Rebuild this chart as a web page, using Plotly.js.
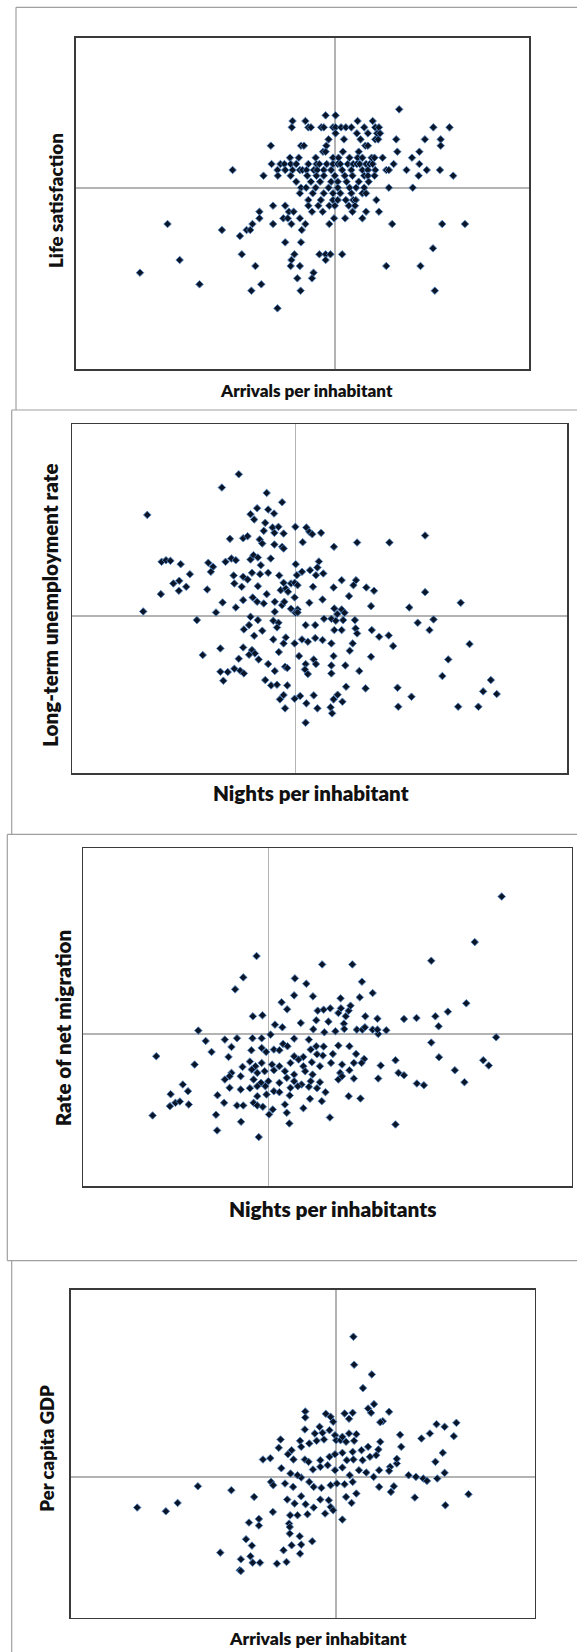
<!DOCTYPE html>
<html>
<head>
<meta charset="utf-8">
<script src="https://cdn.plot.ly/plotly-3.0.1.min.js"></script>
<style>
html,body{margin:0;padding:0;background:#ffffff;}
#chart{width:577px;height:1652px;}
</style>
</head>
<body>
<div id="chart"></div>
<script>
// ---------------- DATA (standardised values; 0 = mean, crossing lines) ----------------
// Panel 1: Arrivals per inhabitant vs Life satisfaction
const p1Arrivals = [
 1.75, -0.25, 0.02, -1.15, -0.80, 0.62, 1.03,
 -1.17, -0.72, -0.65, -0.37, -0.30, -0.05, 0.02, 0.17, 0.30, 0.45, 0.80, 1.10, 1.20, 2.68, 3.12,
 0.02, 0.60, 0.90, 1.15, 1.23,
 -0.17, 0.25, 0.70, 1.10, 1.18, 1.67, 2.45, 2.88,
 -1.74, -0.92, -0.84, -0.23, 0.83, 0.90, 2.88,
 -0.32, -0.25, 0.22, 0.65, 1.70, 2.30,
 -1.22, -0.98, -0.52, -0.05, 0.10, 0.40, 0.62, 0.75, 1.00, 1.08, 1.30, 2.10,
 -1.72, -1.48, -1.37, -1.20, -1.05, -0.72, -0.50, -0.42, -0.22, -0.05, 0.08, 0.15, 0.35, 0.50, 0.60, 0.68, 0.85, 0.95, 1.03, 1.60, 2.30,
 -2.78, -1.56, -1.35, -1.15, -0.95, -0.88, -0.77, -0.57, -0.48, -0.30, -0.10, 0.20, 0.45, 0.75, 0.90, 1.10, 1.40, 1.47, 1.95, 2.50, 2.86,
 -1.94, -1.55, -1.20, -0.75, -0.50, -0.30, 0.00, 0.27, 0.48, 0.80, 0.90, 1.08, 2.28, 3.22,
 -1.05, -0.65, -0.40, -0.10, 0.08, 0.32, 0.65, 0.92,
 -0.92, -0.78, -0.52, -0.17, 0.08, 0.40, 0.58, 0.80, 1.47, 2.12,
 -0.95, -0.60, -0.30, -0.05, 0.15, 0.45, 0.75, 0.85,
 -0.72, -0.38, -0.05, 0.08, 0.30, 0.50, 0.57, 1.13,
 -1.68, -1.35, -0.72, -0.45, -0.15, 0.00, 0.38, 0.55,
 -2.05, -1.25, -1.12, -0.62, -0.33, 0.48, 0.85, 1.20,
 -2.05, -1.40, -1.28, -0.95, -0.02, 0.28, 0.75,
 -4.55, -2.24, -1.68, -1.18, -0.80, -0.15, 1.56, 2.92, 3.54,
 -3.07, -2.40, -2.30, -0.90,
 -2.58,
 -1.35, -0.92,
 2.67,
 -2.53, -1.10, -0.42, -0.25, -0.12, 0.20,
 -4.22, -1.18, -0.25,
 -2.16, -1.20, -0.95, 1.40, 2.33,
 -5.30, -0.58,
 -1.02, -0.62,
 -3.68, -2.00,
 -2.27, -0.93, 2.72,
 -1.56
];
const p1LifeSatisfaction = [
 2.36, 2.18, 2.18, 2.01, 2.01, 2.01, 2.01,
 1.82, 1.82, 1.82, 1.82, 1.82, 1.82, 1.82, 1.82, 1.82, 1.82, 1.82, 1.82, 1.82, 1.82, 1.82,
 1.64, 1.64, 1.64, 1.64, 1.64,
 1.46, 1.46, 1.46, 1.46, 1.46, 1.46, 1.46, 1.46,
 1.27, 1.27, 1.27, 1.27, 1.27, 1.27, 1.27,
 1.09, 1.09, 1.09, 1.09, 1.09, 1.09,
 0.91, 0.91, 0.91, 0.91, 0.91, 0.91, 0.91, 0.91, 0.91, 0.91, 0.91, 0.91,
 0.72, 0.72, 0.72, 0.72, 0.72, 0.72, 0.72, 0.72, 0.72, 0.72, 0.72, 0.72, 0.72, 0.72, 0.72, 0.72, 0.72, 0.72, 0.72, 0.72, 0.72,
 0.54, 0.54, 0.54, 0.54, 0.54, 0.54, 0.54, 0.54, 0.54, 0.54, 0.54, 0.54, 0.54, 0.54, 0.54, 0.54, 0.54, 0.54, 0.54, 0.54, 0.54,
 0.37, 0.37, 0.37, 0.37, 0.37, 0.37, 0.37, 0.37, 0.37, 0.37, 0.37, 0.37, 0.37, 0.37,
 0.19, 0.19, 0.19, 0.19, 0.19, 0.19, 0.19, 0.19,
 0.01, 0.01, 0.01, 0.01, 0.01, 0.01, 0.01, 0.01, 0.01, 0.01,
 -0.16, -0.16, -0.16, -0.16, -0.16, -0.16, -0.16, -0.16,
 -0.36, -0.36, -0.36, -0.36, -0.36, -0.36, -0.36, -0.36,
 -0.53, -0.53, -0.53, -0.53, -0.53, -0.53, -0.53, -0.53,
 -0.71, -0.71, -0.71, -0.71, -0.71, -0.71, -0.71, -0.71,
 -0.91, -0.91, -0.91, -0.91, -0.91, -0.91, -0.91,
 -1.08, -1.08, -1.08, -1.08, -1.08, -1.08, -1.08, -1.08, -1.08,
 -1.26, -1.26, -1.26, -1.26,
 -1.44,
 -1.63, -1.63,
 -1.81,
 -1.99, -1.99, -1.99, -1.99, -1.99, -1.99,
 -2.16, -2.16, -2.16,
 -2.34, -2.34, -2.34, -2.34, -2.34,
 -2.54, -2.54,
 -2.71, -2.71,
 -2.89, -2.89,
 -3.08, -3.08, -3.08,
 -3.61
];

// Panel 2: Nights per inhabitant vs Long-term unemployment rate
const p2Nights = [
 -1.54, -2.00, -0.78, -0.36, -4.03, -1.04, -0.74, -0.58, -1.22, -1.12,
 -0.82, -0.62, -0.46, -0.86, -0.57, -0.32, 0.00, 0.30, 0.38, 0.46,
 0.70, -1.78, -1.42, -1.30, -0.97, -0.90, -0.57, -0.36, -0.32, 0.20,
 1.05, 1.68, 2.56, 3.53, -3.64, -3.52, -3.40, -3.12, -2.37, -2.24,
 -2.30, -1.90, -1.74, -1.62, -1.22, -1.14, -1.02, -0.67, -0.94, 0.01,
 0.64, 0.60, -2.87, -3.32, -3.16, -2.97, -3.17, -3.66, -2.40, -1.98,
 -2.16, -1.68, -1.66, -1.42, -1.30, -1.18, -0.96, -0.74, -0.44, -0.32,
 -0.12, 0.04, 0.18, 0.40, 0.56, 0.76, -1.46, -1.02, -0.78, -0.40,
 -0.26, -0.20, -0.02, 0.06, 0.48, 1.04, 1.26, 1.58, 1.65, 1.93,
 2.14, 1.46, -1.62, -1.42, -1.16, -1.04, -0.86, -0.56, -0.36, -0.02,
 -0.30, 0.06, -0.12, 0.00, 0.38, 0.74, 1.06, 1.26, 1.14, 1.34,
 2.06, 3.10, 3.53, 4.50, -4.14, -2.68, -1.22, -1.02, -0.56, -0.60,
 -0.46, 0.06, 0.78, 0.98, 1.10, 1.30, 1.62, 3.76, 3.33, -1.40,
 -1.26, -0.90, -0.50, 0.28, 0.54, 1.06, 1.26, 1.64, 1.68, 2.08,
 2.28, 2.54, 3.65, -1.12, -0.60, -0.26, 0.18, 0.34, 0.54, 0.74,
 0.98, 1.56, 2.66, 4.74, -2.04, -1.42, -1.18, -1.10, -1.26, -0.45,
 -0.32, -0.02, 0.10, 0.50, 1.04, 1.48, 2.06, 4.16, -2.52, -1.54,
 -1.00, -0.74, -0.28, 0.28, 0.26, 0.56, 0.98, 1.36, 1.74, 4.00,
 -2.04, -1.96, -1.84, -1.66, -1.50, -1.40, -0.56, -0.22, 0.34, 0.98,
 -0.82, -0.66, -0.50, -0.22, 1.38, 1.91, 2.78, 3.16, 5.32, 5.11,
 5.48, -0.42, -0.32, -0.02, 0.13, 0.30, 0.50, 1.04, 1.28, 1.15,
 2.80, 4.43, 4.98, -0.28, 0.60, 0.96, 1.00, 0.28
];
const p2LongTermUnemployment = [
 4.26, 3.86, 3.70, 3.42, 3.04, 3.24, 3.20, 3.08, 3.06, 2.90,
 2.80, 2.66, 2.68, 2.56, 2.50, 2.48, 2.68, 2.66, 2.53, 2.46,
 2.50, 2.32, 2.34, 2.40, 2.30, 2.18, 2.15, 2.08, 2.03, 2.22,
 2.08, 2.21, 2.21, 2.42, 1.63, 1.68, 1.66, 1.56, 1.60, 1.48,
 1.33, 1.63, 1.73, 1.68, 1.70, 1.83, 1.76, 1.73, 1.53, 1.56,
 1.64, 1.46, 1.26, 0.98, 1.06, 0.88, 0.76, 0.66, 0.80, 0.41,
 0.11, 1.22, 0.98, 1.18, 1.10, 1.30, 1.26, 1.30, 1.22, 1.00,
 0.98, 1.23, 1.33, 1.38, 1.23, 1.28, 0.88, 0.90, 0.66, 0.78,
 0.83, 0.73, 1.00, 0.93, 0.88, 0.86, 1.08, 0.93, 1.08, 0.86,
 0.76, 0.60, 0.26, 0.48, 0.56, 0.43, 0.38, 0.43, 0.33, 0.56,
 0.43, 0.20, 0.22, 0.10, 0.40, 0.50, 0.23, 0.20, 0.06, 0.10,
 0.30, 0.26, 0.72, 0.40, 0.14, -0.12, -0.02, -0.12, 0.13, -0.14,
 -0.20, 0.11, -0.08, -0.08, -0.14, -0.12, -0.12, -0.10, -0.20, -0.40,
 -0.27, -0.44, -0.34, -0.27, -0.27, -0.42, -0.42, -0.37, -0.52, -0.42,
 -0.62, -0.58, -0.42, -0.59, -0.70, -0.64, -0.70, -0.77, -0.66, -0.72,
 -0.82, -0.82, -0.90, -0.84, -0.97, -0.94, -1.02, -1.12, -1.16, -1.08,
 -0.82, -0.82, -1.20, -1.30, -1.20, -1.04, -1.22, -1.30, -1.17, -1.28,
 -1.30, -1.44, -1.52, -1.44, -1.60, -1.44, -1.48, -1.48, -1.65, -1.80,
 -1.67, -1.94, -1.68, -1.58, -1.64, -1.72, -1.65, -1.56, -1.74, -1.72,
 -1.92, -2.08, -2.06, -2.08, -2.12, -2.17, -2.15, -2.42, -1.92, -2.26,
 -2.34, -2.50, -2.37, -2.48, -2.40, -2.62, -2.38, -2.50, -2.57, -2.36,
 -2.72, -2.72, -2.72, -2.77, -2.77, -2.74, -2.92, -3.20
];

// Panel 3: Nights per inhabitants vs Rate of net migration
const p3Nights = [
 6.33, 5.60, 4.42, -0.32, 1.46, 2.28, -0.68, -0.90, 0.72, 1.03, 2.54, 0.70, 1.21, 2.83, 1.96, 2.48, 0.36, 0.51, 5.37,
 1.34, 1.50, 1.68, 1.90, 2.18, 2.23, 1.97,
 4.87, -0.42, -0.16,
 1.30, 1.63, 2.10, 2.63, 2.96,
 3.68, 4.02, 4.53, 4.62,
 0.18, 0.38, 0.88, 1.22, 1.52, 1.82, 2.05, 2.06, 2.40, 2.55, 2.62, 2.83, 2.98, 3.20, 2.96,
 -1.90,
 0.06, -0.18, -0.43, -0.85, -1.18,
 -1.70, -1.00, -1.54,
 6.18, 4.42,
 0.40, 0.70, 0.52, 1.10, 1.30, 1.50, 1.90, 2.20, 2.38, 2.60, 1.75, 1.48,
 -0.46, -0.18, -0.06, 0.15, 0.30, 0.70, 0.95, 1.15, 1.32,
 -3.04, -1.08, 4.63, 3.45, 5.83, 5.98, -2.00,
 -0.70, -0.50, -0.35, -0.18, 0.10, 0.30, 0.60, 0.82, 0.95, 1.18, 1.40, 1.70, 2.00, 2.32, 2.53, 3.05,
 -0.45, -0.30, -0.10, 0.15, 0.45, 0.70, 1.00, 1.20, 1.95, 2.20,
 3.53, 3.68, 5.06,
 -1.00, -0.75, -1.18, -1.05,
 -0.40, -0.20, 0.00, 0.30, 0.50, 0.70, 0.90, 1.15, 1.40, 1.90, 2.00, 2.32, 2.98,
 4.03, 4.22, 5.32,
 -2.32, -2.18, -2.65, -1.05, -0.75, -0.50, -0.30, -0.08, 0.15, 0.30, 0.60, 0.80, 1.10, 1.32, 1.55,
 -1.38, -0.30, -0.05, 0.58, 1.13, 1.45, 2.18, 2.50,
 -2.67, -2.52, -2.40, -2.16, -1.20, -0.85, -0.68, -0.40, -0.30, -0.15, 0.45, 0.95,
 -3.14, -1.42, 0.02, 0.12, 0.50, 1.67,
 -0.74, 0.57, 3.45, -1.39, -0.26
];
const p3NetMigration = [
 4.13, 2.76, 2.20, 2.34, 2.09, 2.09, 1.70, 1.34, 1.67, 1.51, 1.57, 1.16, 1.13, 1.23, 1.07, 1.10, 0.95, 0.74, 0.92,
 0.70, 0.73, 0.77, 0.63, 0.70, 0.85, 0.77,
 0.67, 0.53, 0.56,
 0.41, 0.37, 0.53, 0.53, 0.46,
 0.45, 0.48, 0.53, 0.23,
 0.28, 0.20, 0.33, 0.14, 0.05, 0.08, 0.31, 0.15, 0.13, 0.13, 0.20, 0.13, 0.00, 0.11, 0.13,
 0.10,
 -0.02, -0.13, -0.13, -0.13, -0.17,
 -0.21, -0.39, -0.54,
 -0.10, -0.26,
 -0.30, -0.14, -0.37, -0.17, -0.37, -0.38, -0.35, -0.37, -0.60, -0.75, -0.60, -0.65,
 -0.49, -0.42, -0.54, -0.47, -0.49, -0.67, -0.69, -0.47, -0.61,
 -0.67, -0.69, -0.70, -0.79, -0.79, -0.95, -0.92,
 -0.99, -0.83, -0.97, -0.87, -0.92, -0.97, -0.87, -0.77, -0.97, -0.85, -0.97, -0.87, -0.92, -0.87, -0.87, -0.95,
 -1.07, -1.17, -1.12, -1.09, -1.12, -1.22, -1.12, -1.22, -1.17, -1.09,
 -1.17, -1.24, -1.09,
 -1.17, -1.27, -1.37, -1.27,
 -1.37, -1.47, -1.42, -1.47, -1.32, -1.42, -1.52, -1.42, -1.45, -1.37, -1.27, -1.34, -1.34,
 -1.49, -1.54, -1.45,
 -1.52, -1.72, -1.81, -1.62, -1.67, -1.63, -1.57, -1.57, -1.72, -1.75, -1.62, -1.57, -1.59, -1.63, -1.75,
 -1.84, -1.87, -1.82, -1.85, -1.95, -2.02, -1.87, -1.94,
 -2.17, -2.07, -2.03, -2.12, -2.07, -2.15, -2.15, -2.07, -2.15, -2.19, -2.12, -2.23,
 -2.45, -2.43, -2.42, -2.27, -2.37, -2.51,
 -2.64, -2.69, -2.72, -2.90, -3.10
];

// Panel 4: Arrivals per inhabitant vs Per capita GDP
const p4Arrivals = [
 0.47, 0.49, 0.97, 0.73,
 1.03, 0.87, 0.95, 1.44, 0.23, 0.45, 0.35, 1.27, 1.20,
 -0.84, -0.84, -0.28, -0.15, -0.08, -0.45, -0.18, -0.85, -0.58, -0.37,
 2.73, 2.95, 3.27, 3.20, 2.55, 2.32, 1.74, 1.77, 2.90, 2.70, 2.95, 2.75, 3.60, 2.97, 2.14,
 -1.51, -0.98, -1.56, -1.21, -0.95, -0.73, -0.53, -0.33, -0.03, 0.00, 0.12, 0.27, 0.49, 0.55, 0.35, 0.17,
 -1.99, -1.79, -1.31, -1.16, -0.85, -0.75, -0.43, -0.18, -0.03, 0.17, 0.45, 0.69, 0.87, 1.15, 1.20, 1.09, 0.92, 0.72, 0.47, 0.29,
 -1.49, -1.24, -0.95, -1.05, -0.63, -0.43, -0.23, -0.03, 0.17, 0.37, 0.62, 0.82, 1.02, 1.17, 1.47, 1.65, 1.65, 1.44, 1.97, 2.17, 2.37, 2.47,
 -1.77, -1.71, -1.39, -1.17, -0.73, -0.61, -0.40, -0.15, 0.02, 0.23, 0.45, 0.55, 1.17, 1.57, 1.49,
 -3.76, -2.85, -2.23, -1.72, -1.33, -1.13, -0.95, -0.83, -0.61, -0.43, -0.20, -0.15, -0.30, -0.08, 0.27, 0.42, 0.17,
 -5.41, -4.63, -4.31, -1.25, -1.05, -0.78,
 -2.37, -2.10, -2.10, -1.28, -1.26, -1.26, -0.99, -0.65, -0.95, -1.21, -1.43, -0.98, -2.45, -2.29, -3.15, -2.33, -2.59, -2.27, -2.07, -1.61, -1.35, -2.62, -2.59
];
const p4GdpPerCapita = [
 4.20, 3.36, 3.07, 2.66,
 2.18, 2.05, 1.92, 1.95, 1.90, 1.92, 1.74, 1.67, 1.64,
 1.96, 1.78, 1.89, 1.80, 1.65, 1.50, 1.40, 1.42, 1.30, 1.32,
 1.58, 1.50, 1.62, 1.22, 1.30, 1.15, 1.26, 0.90, 0.72, 0.45, 0.12, -0.05, -0.52, -0.85, -0.62,
 1.12, 1.08, 0.87, 0.80, 0.90, 1.00, 1.08, 1.12, 1.25, 1.10, 1.10, 1.05, 1.08, 1.28, 1.30, 1.20,
 0.52, 0.56, 0.68, 0.52, 0.52, 0.45, 0.50, 0.60, 0.68, 0.72, 0.75, 0.80, 0.90, 0.82, 1.05, 0.65, 0.60, 0.50, 0.52, 0.50,
 0.26, 0.10, -0.02, 0.05, 0.22, 0.30, 0.35, 0.20, 0.28, 0.05, 0.20, 0.13, 0.00, 0.20, 0.30, 0.40, 0.54, 0.18, 0.05, 0.00, -0.05, -0.12,
 -0.15, -0.25, -0.20, -0.30, -0.15, -0.30, -0.33, -0.25, -0.20, -0.22, -0.15, -0.50, -0.30, -0.28, -0.45,
 -0.28, -0.40, -0.60, -1.05, -0.68, -0.80, -0.58, -0.82, -0.92, -0.68, -0.70, -0.90, -1.10, -1.00, -0.60, -0.78, -1.28,
 -0.92, -1.03, -0.78, -1.15, -1.15, -1.12,
 -1.37, -1.26, -1.46, -1.40, -1.50, -1.70, -1.78, -1.93, -2.03, -2.05, -2.20, -2.30, -1.87, -2.06, -2.27, -2.38, -2.47, -2.57, -2.57, -2.60, -2.55, -2.80, -2.82
];

// Axis titles
const xTitles = ["Arrivals per inhabitant", "Nights per inhabitant", "Nights per inhabitants", "Arrivals per inhabitant"];
const yTitles = ["Life satisfaction", "Long-term unemployment rate", "Rate of net migration", "Per capita GDP"];

// ---------------- LAYOUT (pixel geometry of the page) ----------------
const W = 577, H = 1652;
const px = v => v / W;
const py = v => 1 - v / H;

const panels = [
  {x: p1Arrivals, y: p1LifeSatisfaction, box: [76, 37.7, 529.3, 369], xr: [-7.04, 5.29], yr: [-5.43, 4.51],
   xt: {cx: 306, cy: 390, len: 172}, yt: {cx: 55, cy: 201, len: 135}},
  {x: p2Nights, y: p2LongTermUnemployment, box: [72.3, 424.3, 567.3, 773.3], xr: [-6.07, 7.40], yr: [-4.72, 5.76],
   xt: {cx: 311, cy: 793, len: 196}, yt: {cx: 50, cy: 605, len: 284}},
  {x: p3Nights, y: p3NetMigration, box: [83.3, 848.3, 571.7, 1186], xr: [-5.02, 8.23], yr: [-4.57, 5.58],
   xt: {cx: 332.5, cy: 1208, len: 208}, yt: {cx: 63.3, cy: 1028, len: 197}},
  {x: p4Arrivals, y: p4GdpPerCapita, box: [71, 1290, 534.7, 1617.7], xr: [-7.21, 5.40], yr: [-4.22, 5.60],
   xt: {cx: 317.7, cy: 1638, len: 177}, yt: {cx: 46.7, cy: 1448, len: 127}}
];

panels.forEach((p, i) => {
  if (p.x.length !== p.y.length) throw new Error('Panel ' + (i + 1) + ' length mismatch: ' + p.x.length + ' vs ' + p.y.length);
});

const FONT = 'Lato';
const WEIGHT = 800;
const meas = document.createElement('canvas').getContext('2d');
function fitSize(text, target) {
  meas.font = WEIGHT + ' 100px ' + FONT;
  const w = meas.measureText(text).width;
  return 100 * target / w;
}

const traces = [];
const layout = {
  width: W, height: H,
  margin: {l: 0, r: 0, t: 0, b: 0, pad: 0},
  paper_bgcolor: '#ffffff', plot_bgcolor: '#ffffff',
  showlegend: false,
  shapes: [], annotations: []
};

panels.forEach((p, i) => {
  const n = i === 0 ? '' : String(i + 1);
  const [l, t, r, b] = p.box;
  traces.push({
    type: 'scatter', mode: 'markers',
    x: p.x, y: p.y,
    xaxis: 'x' + n, yaxis: 'y' + n,
    marker: {symbol: 'diamond', size: 5.8, color: '#0a1628', line: {color: '#4f80bd', width: 0.9}},
    hoverinfo: 'skip'
  });
  const common = {
    showgrid: false, zeroline: true, zerolinecolor: '#b3b3b3', zerolinewidth: 1.4,
    showline: true, linecolor: '#3a3a3a', linewidth: 1.6, mirror: true,
    showticklabels: false, ticks: '', fixedrange: true
  };
  layout['xaxis' + n] = Object.assign({}, common, {domain: [px(l), px(r)], range: p.xr, anchor: 'y' + n});
  layout['yaxis' + n] = Object.assign({}, common, {domain: [py(b), py(t)], range: p.yr, anchor: 'x' + n});

  layout.annotations.push({
    xref: 'paper', yref: 'paper', x: px(p.xt.cx), y: py(p.xt.cy),
    xanchor: 'center', yanchor: 'middle', showarrow: false,
    text: xTitles[i],
    font: {family: FONT, weight: WEIGHT, size: fitSize(xTitles[i], p.xt.len), color: '#111111'}
  });
  layout.annotations.push({
    xref: 'paper', yref: 'paper', x: px(p.yt.cx), y: py(p.yt.cy),
    xanchor: 'center', yanchor: 'middle', showarrow: false, textangle: -90,
    text: yTitles[i],
    font: {family: FONT, weight: WEIGHT, size: fitSize(yTitles[i], p.yt.len), color: '#111111'}
  });
});

// outer panel frames (grey lines of the pasted figure boxes)
const frames = [
  [[16, 7.3], [577, 7.3]], [[16, 7.3], [16, 410]],
  [[11.7, 410], [577, 410]], [[11.7, 410], [11.7, 834.3]],
  [[7.3, 834.3], [577, 834.3]], [[7.3, 834.3], [7.3, 1260.7]],
  [[7.3, 1260.7], [577, 1260.7]], [[11.7, 1260.7], [11.7, 1652]]
];
frames.forEach(f => {
  layout.shapes.push({
    type: 'line', xref: 'paper', yref: 'paper',
    x0: px(f[0][0]), y0: py(f[0][1]), x1: px(f[1][0]), y1: py(f[1][1]),
    line: {color: '#a0a0a0', width: 1.2}
  });
});

Plotly.newPlot('chart', traces, layout, {displayModeBar: false, staticPlot: true});
</script>
</body>
</html>
